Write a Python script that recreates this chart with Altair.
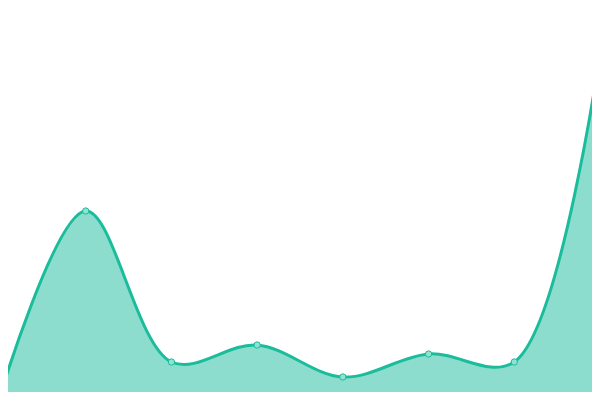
import altair as alt
import pandas as pd

idx = [0, 1, 2, 3, 4, 5, 6, 7]
values = [4, 189, 38, 55, 23, 46, 38, 347]

df = pd.DataFrame({"i": idx, "v": values})

# svg sits inside the 8px page margin; domains chosen so the plot maps to full window
W, H = 584, 384
step = 600 / 7
xdom = [8 / step, 592 / step]
ydom = [8, 392]

x = alt.X("i:Q", scale=alt.Scale(domain=xdom, nice=False, zero=False), axis=None)
y = alt.Y("v:Q", scale=alt.Scale(domain=ydom, nice=False, zero=False), axis=None)

base = alt.Chart(df)
area = base.mark_area(interpolate="catmull-rom", color="#1abc9c", fillOpacity=0.5, clip=True).encode(
    x=x, y=y, y2=alt.datum(-50)
)
line = base.mark_line(interpolate="catmull-rom", color="#1abc9c", strokeWidth=3, clip=True).encode(x=x, y=y)
pts = base.mark_point(filled=True, fill="#8fe3d2", stroke="#1abc9c", strokeWidth=1, size=40, opacity=1, clip=True).encode(x=x, y=y)

chart = (area + line + pts).properties(width=W, height=H, padding=0).configure_view(stroke=None)
chart.save("out.html", embed_options={"renderer": "svg", "actions": False})
